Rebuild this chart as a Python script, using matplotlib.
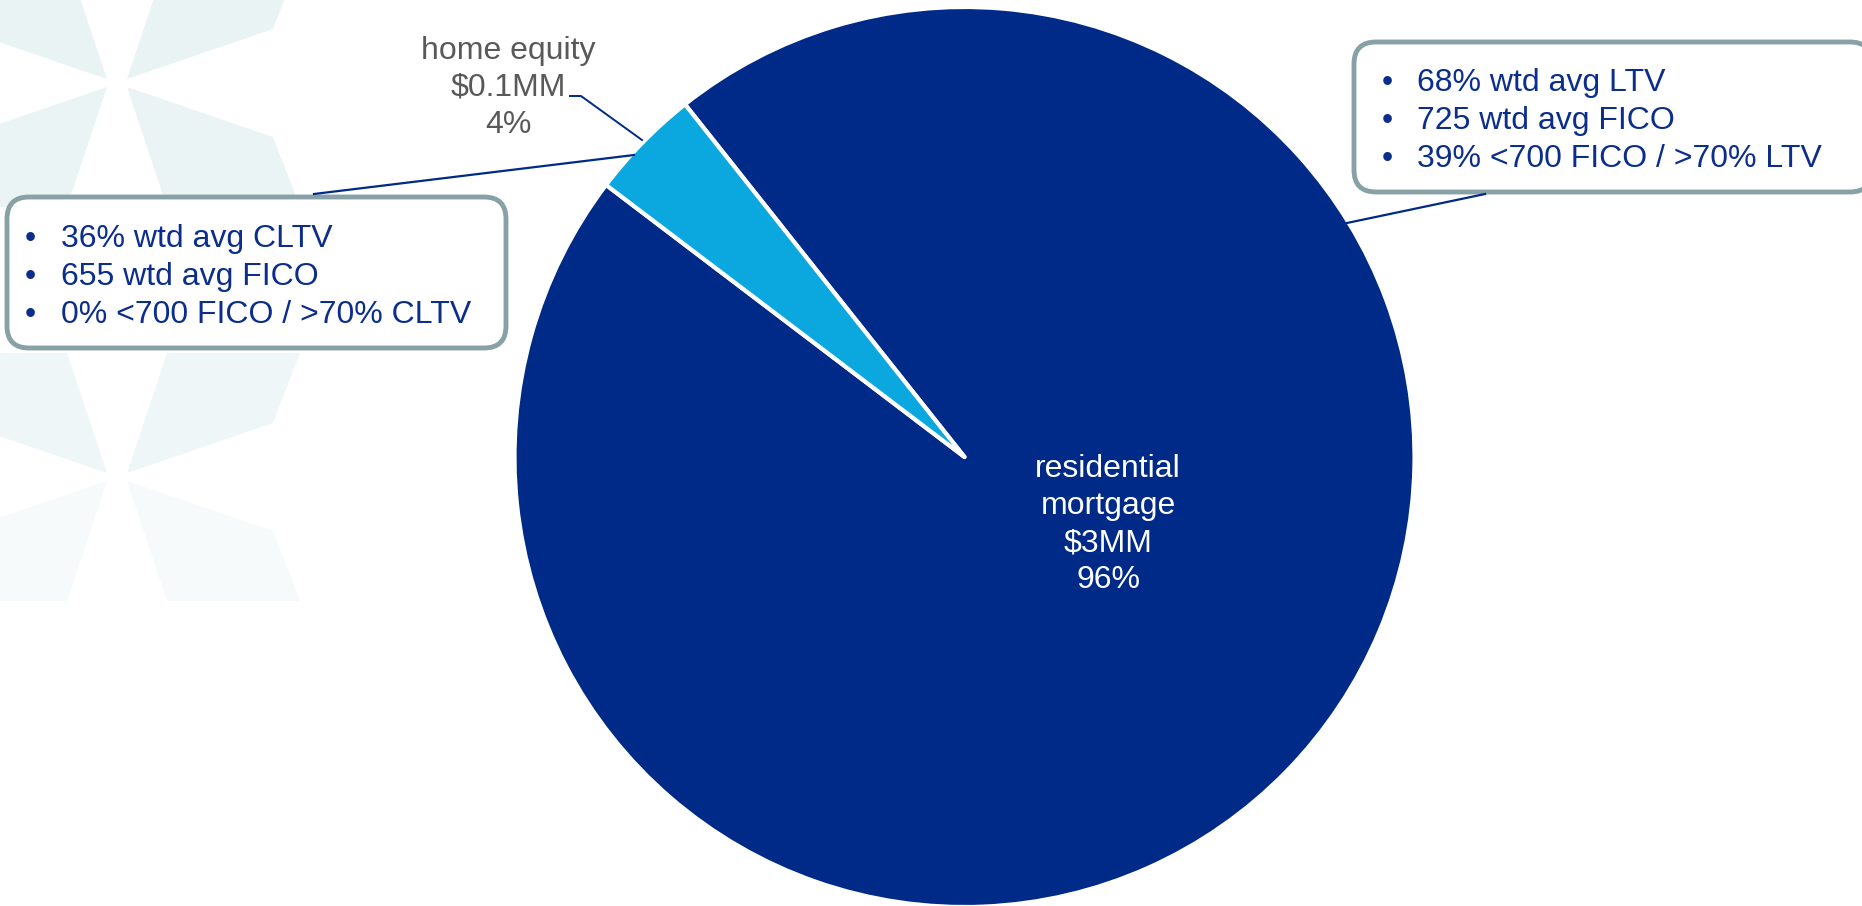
import matplotlib.pyplot as plt
from matplotlib.patches import FancyBboxPatch, Polygon

# portfolio mix
segments = ["residential\nmortgage", "home equity"]
balances = ["$3MM", "$0.1MM"]
shares = [96, 4]

# credit stats shown in the call-out boxes
resi_stats = ["68% wtd avg LTV", "725 wtd avg FICO", "39% <700 FICO / >70% LTV"]
heq_stats = ["36% wtd avg CLTV", "655 wtd avg FICO", "0% <700 FICO / >70% CLTV"]

W, H = 1862, 906
NAVY = "#002a88"
SKY = "#0ba8df"
TEXT_NAVY = "#0b2d8c"
GREY = "#595959"
BOX_EDGE = "#87a1a6"
FONT = "Liberation Sans"
FS = 23


def Y(py):
    # pixel rows are counted from the top
    return H - py


fig = plt.figure(figsize=(W / 100, H / 100), dpi=100)
ax = fig.add_axes([0, 0, 1, 1])

# faint decorative asterisks on the left, fading towards the bottom
petal = [(10, 4), (50, 124), (183, 124), (156, 54)]
star_colours = {83: ("#e9f3f4", "#ebf4f5"), 477: ("#eff6f7", "#f6fafa")}
for cy, (upper, lower) in star_colours.items():
    for sx in (1, -1):
        for sy in (1, -1):
            pts = [(117 + sx * dx, Y(cy) + sy * dy) for dx, dy in petal]
            ax.add_patch(Polygon(pts, closed=True, facecolor=upper if sy > 0 else lower,
                                 edgecolor="none", zorder=0))

ax.pie(shares, colors=[NAVY, SKY], startangle=128.4, counterclock=False,
       center=(964.5, Y(457)), radius=450,
       wedgeprops=dict(edgecolor="white", linewidth=3.0, joinstyle="round"))

ax.set_xlim(0, W)
ax.set_ylim(0, H)
ax.set_aspect("equal")
ax.axis("off")

# slice labels
resi_lines = segments[0].split("\n") + [balances[0], f"{shares[0]}%"]
for line, by in zip(resi_lines, [477, 514, 551, 588]):
    ax.text(1108, Y(by), line, color="white", fontsize=FS, family=FONT,
            ha="center", va="baseline", zorder=5)

heq_lines = [segments[1], balances[1], f"{shares[1]}%"]
for line, by in zip(heq_lines, [59, 96, 133]):
    ax.text(508, Y(by), line, color=GREY, fontsize=FS, family=FONT,
            ha="center", va="baseline", zorder=5)

# leader lines
ax.plot([570, 581, 642], [Y(96), Y(96), Y(140)], color=NAVY, lw=1.4, zorder=4)
ax.plot([314, 634], [Y(194), Y(155)], color=NAVY, lw=1.6, zorder=4)
ax.plot([1485, 1347], [Y(194), Y(223)], color=NAVY, lw=1.6, zorder=4)


def stat_box(x0, x1, top, bottom, stats, bullet_x, text_x, baselines):
    box = FancyBboxPatch((x0, Y(bottom)), x1 - x0, bottom - top,
                         boxstyle="round,pad=0,rounding_size=22",
                         facecolor="white", edgecolor=BOX_EDGE, lw=3.5, zorder=3)
    ax.add_patch(box)
    for s, by in zip(stats, baselines):
        ax.text(bullet_x, Y(by), "\u2022", color=TEXT_NAVY, fontsize=FS, family=FONT,
                ha="center", va="baseline", zorder=5)
        ax.text(text_x, Y(by), s, color=TEXT_NAVY, fontsize=FS, family=FONT,
                ha="left", va="baseline", zorder=5)


stat_box(7, 506, 197, 348, heq_stats, 30, 61, [247, 285, 323])
stat_box(1354, 1872, 42, 192, resi_stats, 1387, 1417, [91, 129, 167])

fig.savefig("out.png", dpi=100, facecolor="white")
